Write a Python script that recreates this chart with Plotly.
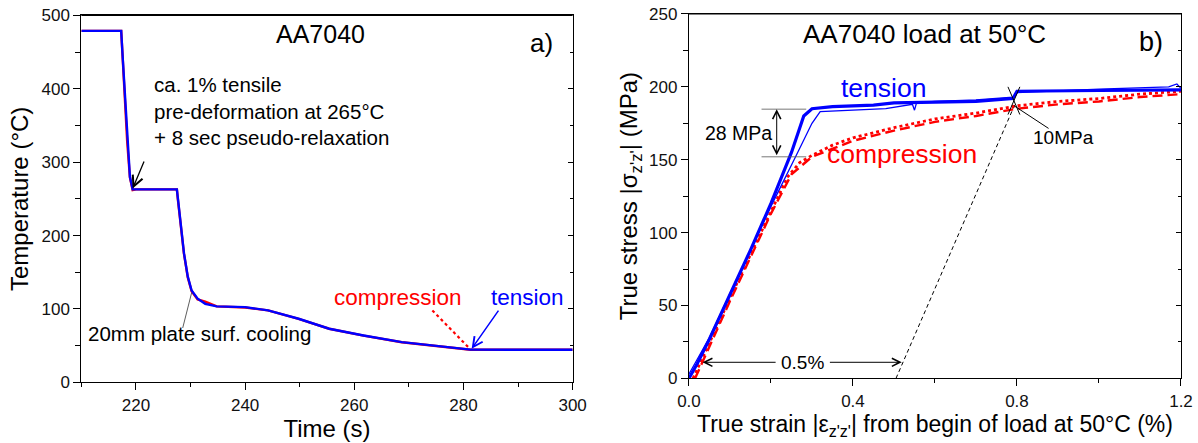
import plotly.graph_objects as go

# ---- Panel a) temperature history ----
time_s = [210, 217.3, 217.6, 218.4, 218.9, 219.4, 220, 227.5, 227.7, 228.1, 228.8, 229.5, 230.2,
          231.3, 232.7, 234.8, 240, 244.2, 249.8, 255.4, 261.7, 268.7, 275.7, 281.3, 290, 300]
temp_tension = [479, 479, 440, 330, 280, 263, 263, 263, 250, 226, 176, 144, 125,
                114, 107, 103.5, 102.5, 98, 86.6, 73, 63.8, 54.7, 48.8, 44.5, 44.3, 44.3]
temp_compression = [479, 479, 438, 328, 279, 262, 263, 263, 248, 224, 175, 143, 124,
                    113, 110, 103.5, 102, 98, 86.4, 73, 63.6, 54.6, 48.7, 44.3, 44.3, 44.3]

# ---- Panel b) stress-strain at 50 C ----
strain_t1 = [0.0, 0.02, 0.05, 0.10, 0.15, 0.20, 0.25, 0.28, 0.30, 0.35, 0.45, 0.50, 0.60, 0.70, 0.79, 0.80, 1.00, 1.20]
stress_t1 = [0, 10, 27, 57, 88, 120, 155, 180, 185, 186.5, 187.5, 189, 189.5, 190, 192, 197, 197.5, 198]
strain_t2 = [0.0, 0.05, 0.10, 0.15, 0.20, 0.26, 0.30, 0.32, 0.40, 0.48, 0.545, 0.55, 0.555, 0.60, 0.70, 0.79, 0.80, 1.00, 1.17, 1.19, 1.20]
stress_t2 = [3, 28, 58, 88, 118, 152, 175, 183, 184, 185, 188, 184, 189, 190, 191, 193, 196, 198.5, 200, 202, 199]
strain_c1 = [0.01, 0.05, 0.10, 0.15, 0.20, 0.24, 0.27, 0.30, 0.35, 0.40, 0.50, 0.60, 0.70, 0.80, 0.90, 1.00, 1.10, 1.20]
stress_c1 = [0, 25, 55, 85, 115, 138, 148, 153, 160, 165, 172, 178, 182, 187, 190, 192, 195, 197]
strain_c2 = [0.015, 0.05, 0.10, 0.15, 0.20, 0.25, 0.30, 0.40, 0.50, 0.60, 0.70, 0.80, 0.90, 1.00, 1.10, 1.20]
stress_c2 = [0, 22, 53, 83, 113, 140, 152, 163, 170, 176, 180, 185, 188, 190, 193, 195]
offset_strain = [0.505, 0.795]
offset_stress = [0, 188]

FONT = "Liberation Sans, Arial, sans-serif"
BLUE = "#0000ff"
RED = "#ff0000"

fig = go.Figure()

# panel a
fig.add_trace(go.Scatter(x=time_s, y=temp_compression, mode="lines",
                         line=dict(color=RED, width=2.4), xaxis="x", yaxis="y", showlegend=False))
fig.add_trace(go.Scatter(x=time_s, y=temp_tension, mode="lines",
                         line=dict(color=BLUE, width=2.4), xaxis="x", yaxis="y", showlegend=False))

# panel b
fig.add_trace(go.Scatter(x=offset_strain, y=offset_stress, mode="lines",
                         line=dict(color="black", width=1, dash="4px,3px"), xaxis="x2", yaxis="y2", showlegend=False))
fig.add_trace(go.Scatter(x=strain_c2, y=stress_c2, mode="lines",
                         line=dict(color=RED, width=2.4, dash="10px,5px"), xaxis="x2", yaxis="y2", showlegend=False))
fig.add_trace(go.Scatter(x=strain_c1, y=stress_c1, mode="lines",
                         line=dict(color=RED, width=2.8, dash="dot"), xaxis="x2", yaxis="y2", showlegend=False))
fig.add_trace(go.Scatter(x=strain_t2, y=stress_t2, mode="lines",
                         line=dict(color=BLUE, width=1.3), xaxis="x2", yaxis="y2", showlegend=False))
fig.add_trace(go.Scatter(x=strain_t1, y=stress_t1, mode="lines",
                         line=dict(color=BLUE, width=3.2), xaxis="x2", yaxis="y2", showlegend=False))

# dummy traces for right-side inner-tick axes
fig.add_trace(go.Scatter(x=[None], y=[None], xaxis="x", yaxis="y3", showlegend=False, hoverinfo="skip"))
fig.add_trace(go.Scatter(x=[None], y=[None], xaxis="x2", yaxis="y4", showlegend=False, hoverinfo="skip"))

xa_dom = [0.0679, 0.4780]
ya_dom = [0.137, 0.9652]
xb_dom = [0.5751, 0.9858]
yb_dom = [0.146, 0.9684]

base = dict(showline=True, linecolor="black", linewidth=1.2, showgrid=False, zeroline=False,
            mirror=True, ticks="outside", ticklen=7, tickwidth=1, tickcolor="black", automargin=False,
            tickfont=dict(family=FONT, size=17, color="#111"))
mirror_y = dict(showline=True, linecolor="black", linewidth=1.2, showgrid=False, zeroline=False,
                ticks="inside", ticklen=5, tickwidth=1, tickcolor="black", showticklabels=False,
                automargin=False)

fig.update_layout(
    width=1198, height=443,
    margin=dict(l=0, r=0, t=0, b=0),
    paper_bgcolor="white", plot_bgcolor="white",
    font=dict(family=FONT, color="black"),
    xaxis=dict(base, domain=xa_dom, anchor="y", range=[210, 300], dtick=20, tick0=220,
               minor=dict(dtick=10, ticks="outside", ticklen=4, tickcolor="black"),
               title=dict(text="Time (s)", font=dict(size=24), standoff=2)),
    yaxis=dict(base, domain=ya_dom, anchor="x", range=[0, 500], dtick=100,
               minor=dict(dtick=50, ticks="outside", ticklen=5, tickcolor="black"),
               title=dict(text="Temperature (°C)", font=dict(size=24), standoff=6)),
    yaxis3=dict(mirror_y, overlaying="y", side="right", anchor="x", range=[0, 500], dtick=100,
                minor=dict(dtick=50, ticks="inside", ticklen=3, tickcolor="black")),
    xaxis2=dict(base, domain=xb_dom, anchor="y2", range=[0, 1.2], dtick=0.4, tickformat=".1f",
                minor=dict(dtick=0.2, ticks="outside", ticklen=4, tickcolor="black"),
                title=dict(text="True strain |ε<sub>z'z'</sub>| from begin of load at 50°C (%)",
                           font=dict(size=23), standoff=2)),
    yaxis2=dict(base, domain=yb_dom, anchor="x2", range=[0, 250], dtick=50,
                minor=dict(dtick=25, ticks="outside", ticklen=5, tickcolor="black"),
                title=dict(text="True stress |σ<sub>z'z'</sub>| (MPa)", font=dict(size=24), standoff=4)),
    yaxis4=dict(mirror_y, overlaying="y2", side="right", anchor="x2", range=[0, 250], dtick=50,
                minor=dict(dtick=25, ticks="inside", ticklen=3, tickcolor="black")),
)

# plot frames (top border)
fig.add_shape(type="line", xref="x domain", yref="y domain", x0=0, x1=1, y0=1, y1=1,
              line=dict(color="black", width=1.2), layer="above")
fig.add_shape(type="line", xref="x2 domain", yref="y2 domain", x0=0, x1=1, y0=1, y1=1,
              line=dict(color="black", width=1.2), layer="above")

ann = []
# panel a texts
ann.append(dict(x=253.9, y=474, xref="x", yref="y", text="AA7040", showarrow=False,
                font=dict(size=25, color="black")))
ann.append(dict(x=294.3, y=462, xref="x", yref="y", text="a)", showarrow=False,
                font=dict(size=26, color="black")))
ann.append(dict(x=223.0, y=370, xref="x", yref="y", xanchor="left", align="left", showarrow=False,
                text="ca. 1% tensile<br>pre-deformation at 265°C<br>+ 8 sec pseudo-relaxation",
                font=dict(size=20.5, color="black")))
ann.append(dict(x=219.4, y=264, ax=221.6, ay=303, xref="x", yref="y", axref="x", ayref="y",
                text="", showarrow=True, arrowhead=5, arrowsize=1.6, arrowwidth=1.3, arrowcolor="black"))
ann.append(dict(x=210.8, y=66, xref="x", yref="y", xanchor="left", showarrow=False,
                text="20mm plate surf. cooling", font=dict(size=20.5, color="black")))
ann.append(dict(x=230.2, y=122, ax=228.5, ay=72, xref="x", yref="y", axref="x", ayref="y",
                text="", showarrow=True, arrowhead=0, arrowwidth=0.8, arrowcolor="#333"))
ann.append(dict(x=268, y=116, xref="x", yref="y", text="compression", showarrow=False,
                font=dict(size=22.5, color=RED)))
ann.append(dict(x=291.8, y=116, xref="x", yref="y", text="tension", showarrow=False,
                font=dict(size=22.5, color=BLUE)))
fig.add_shape(type="line", xref="x", yref="y", x0=274.3, y0=98, x1=281.0, y1=47,
              line=dict(color=RED, width=2.2, dash="dot"))
ann.append(dict(x=281.2, y=45.6, ax=280.6, ay=50, xref="x", yref="y", axref="x", ayref="y",
                text="", showarrow=True, arrowhead=5, arrowsize=1.4, arrowwidth=1.8, arrowcolor=RED))
ann.append(dict(x=281.5, y=45.6, ax=286.6, ay=99.7, xref="x", yref="y", axref="x", ayref="y",
                text="", showarrow=True, arrowhead=5, arrowsize=1.3, arrowwidth=1.5, arrowcolor=BLUE))

# panel b texts
ann.append(dict(x=0.574, y=236.5, xref="x2", yref="y2", text="AA7040 load at 50°C", showarrow=False,
                font=dict(size=26, color="black")))
ann.append(dict(x=1.128, y=231, xref="x2", yref="y2", text="b)", showarrow=False,
                font=dict(size=27, color="black")))
ann.append(dict(x=0.475, y=199.5, xref="x2", yref="y2", text="tension", showarrow=False,
                font=dict(size=26.5, color=BLUE)))
ann.append(dict(x=0.519, y=154, xref="x2", yref="y2", text="compression", showarrow=False,
                font=dict(size=26.5, color=RED)))
ann.append(dict(x=0.121, y=168, xref="x2", yref="y2", text="28 MPa", showarrow=False,
                font=dict(size=19.5, color="black")))
ann.append(dict(x=0.214, y=184.7, ax=0.214, ay=152, xref="x2", yref="y2", axref="x2", ayref="y2",
                text="", showarrow=True, arrowhead=5, startarrowhead=5, arrowside="end+start",
                arrowsize=1.6, startarrowsize=1.6, arrowwidth=1, arrowcolor="black"))
fig.add_shape(type="line", xref="x2", yref="y2", x0=0.177, y0=184.7, x1=0.286, y1=184.7,
              line=dict(color="#555", width=0.8))
fig.add_shape(type="line", xref="x2", yref="y2", x0=0.177, y0=152, x1=0.286, y1=152,
              line=dict(color="#555", width=0.8))
ann.append(dict(x=0.277, y=11, xref="x2", yref="y2", text="0.5%", showarrow=False,
                font=dict(size=19, color="black")))
ann.append(dict(x=0.033, y=11, ax=0.215, ay=11, xref="x2", yref="y2", axref="x2", ayref="y2",
                text="", showarrow=True, arrowhead=5, arrowsize=1.6, arrowwidth=1, arrowcolor="black"))
ann.append(dict(x=0.519, y=11, ax=0.34, ay=11, xref="x2", yref="y2", axref="x2", ayref="y2",
                text="", showarrow=True, arrowhead=5, arrowsize=1.6, arrowwidth=1, arrowcolor="black"))
fig.add_shape(type="line", xref="x2", yref="y2", x0=0.778, y0=200, x1=0.807, y1=181,
              line=dict(color="black", width=1))
fig.add_shape(type="line", xref="x2", yref="y2", x0=0.778, y0=181, x1=0.807, y1=200,
              line=dict(color="black", width=1))
fig.add_shape(type="line", xref="x2", yref="y2", x0=0.793, y0=187, x1=0.877, y1=171.5,
              line=dict(color="black", width=1))
ann.append(dict(x=0.914, y=165, xref="x2", yref="y2", text="10MPa", showarrow=False,
                font=dict(size=19, color="black")))

fig.update_layout(annotations=ann)
fig.write_html("out.html", config={"displayModeBar": False},
               post_script="document.body.style.margin='0';document.body.style.overflow='hidden';")
